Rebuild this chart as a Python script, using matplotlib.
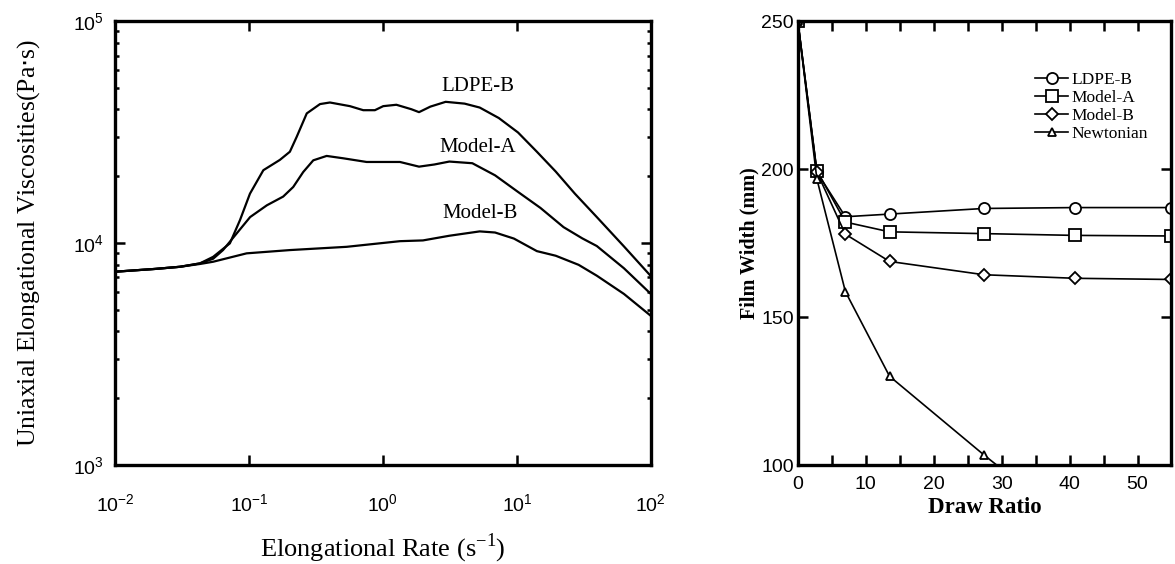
import numpy as np
import matplotlib.pyplot as plt
from matplotlib.ticker import LogLocator, MultipleLocator, NullFormatter

# left panel: elongational viscosity vs rate
rate_ldpe = [0.01, 0.02, 0.0305, 0.043, 0.054, 0.072, 0.0857, 0.1017, 0.128, 0.170, 0.202, 0.227,
             0.270, 0.339, 0.402, 0.567, 0.713, 0.871, 1.005, 1.26, 1.63, 1.86, 2.26, 2.94, 4.07,
             5.28, 7.33, 10.2, 14.1, 19.5, 27.1, 39.5, 63, 100]
visc_ldpe = [7430, 7650, 7820, 8100, 8670, 9970, 12700, 16700, 21300, 23700, 25800, 30100,
             38400, 42300, 43000, 41400, 39700, 39700, 41400, 42000, 40100, 38900, 41200, 43300, 42500,
             40800, 36600, 31500, 25800, 21000, 16700, 13100, 9660, 7100]

rate_model_a = [0.01, 0.02, 0.0305, 0.043, 0.054, 0.064, 0.081, 0.102, 0.136, 0.180, 0.214, 0.254,
                0.302, 0.380, 0.506, 0.755, 1.34, 1.86, 2.42, 3.13, 4.65, 6.87, 10.2, 15.0, 22.3,
                30.8, 39.5, 63, 100]
visc_model_a = [7430, 7650, 7820, 8100, 8500, 9300, 11060, 13100, 14800, 16200, 17900, 20900,
                23600, 24700, 24100, 23200, 23200, 22100, 22600, 23300, 22900, 20200, 17000, 14400, 11800,
                10500, 9700, 7700, 5900]

rate_model_b = [0.01, 0.02, 0.0305, 0.043, 0.054, 0.096, 0.202, 0.536, 1.34, 1.99, 3.13, 5.28,
                6.87, 9.5, 14.1, 19.5, 28.9, 39.5, 63, 100]
visc_model_b = [7430, 7650, 7820, 8050, 8240, 8990, 9300, 9620, 10200, 10280, 10790, 11290,
                11160, 10480, 9200, 8770, 7980, 7130, 5900, 4700]

curve_names = ["LDPE-B", "Model-A", "Model-B"]
label_pos = [(5.1, 51000), (5.1, 27000), (5.3, 13600)]

# right panel: film width vs draw ratio
draw_ratio = [0, 2.8, 7, 13.5, 27.4, 40.8, 55]
width_ldpe = [250, 199, 183.9, 184.8, 186.7, 187.0, 187.0]
width_model_a = [250, 199.5, 182.1, 178.8, 178.2, 177.6, 177.4]
width_model_b = [250, 199, 178.0, 168.8, 164.3, 163.1, 162.7]
draw_ratio_newt = [0, 2.8, 7, 13.5, 27.4, 40.8]
width_newt = [250, 196.7, 158.6, 130.0, 103.4, 79]

serif = "Liberation Serif"
sans = "Liberation Sans"

fig = plt.figure(figsize=(11.75, 5.64), dpi=100)
ax1 = fig.add_axes([0.0979, 0.1755, 0.456, 0.787])
ax2 = fig.add_axes([0.679, 0.1755, 0.318, 0.787])

for ax in (ax1, ax2):
    for s in ax.spines.values():
        s.set_linewidth(2.4)

# ---- left
ax1.plot(rate_ldpe, visc_ldpe, color="black", lw=1.6)
ax1.plot(rate_model_a, visc_model_a, color="black", lw=1.6)
ax1.plot(rate_model_b, visc_model_b, color="black", lw=1.6)
ax1.set_xscale("log")
ax1.set_yscale("log")
ax1.set_xlim(1e-2, 1e2)
ax1.set_ylim(1e3, 1e5)
for name, (x, y) in zip(curve_names, label_pos):
    ax1.text(x, y, name, ha="center", va="center", fontsize=15, family=serif)

ax1.xaxis.set_major_locator(LogLocator(base=10, numticks=10))
ax1.xaxis.set_minor_locator(plt.NullLocator())
ax1.yaxis.set_major_locator(LogLocator(base=10, numticks=10))
ax1.yaxis.set_minor_locator(LogLocator(base=10, subs=np.arange(2, 10), numticks=10))
ax1.yaxis.set_minor_formatter(NullFormatter())
ax1.tick_params(which="both", direction="in", top=True, right=True, width=1.8)
ax1.tick_params(which="major", length=7)
ax1.tick_params(which="minor", length=3)
ax1.tick_params(axis="x", which="major", pad=20)
ax1.tick_params(axis="y", which="major", pad=8)
for lab in ax1.get_xticklabels() + ax1.get_yticklabels():
    lab.set_fontfamily(sans)
    lab.set_fontsize(14)
ax1.set_xlabel("Elongational Rate (s$^{\\mathdefault{-1}}$)", fontsize=19, family=serif, labelpad=12)
ax1.set_ylabel("Uniaxial Elongational Viscosities(Pa$\\cdot$s)", fontsize=18.5, family=serif, labelpad=22)

# ---- right
ax2.plot(draw_ratio, width_ldpe, color="black", lw=1.2, marker="o", ms=8,
         mfc="white", mec="black", mew=1.3, label="LDPE-B")
ax2.plot(draw_ratio, width_model_a, color="black", lw=1.2, marker="s", ms=8,
         mfc="white", mec="black", mew=1.3, label="Model-A")
ax2.plot(draw_ratio, width_model_b, color="black", lw=1.2, marker="D", ms=6,
         mfc="white", mec="black", mew=1.3, label="Model-B")
ax2.plot(draw_ratio_newt, width_newt, color="black", lw=1.2, marker="^", ms=6,
         mfc="white", mec="black", mew=1.3, label="Newtonian")
ax2.set_xlim(0, 55)
ax2.set_ylim(100, 250)
ax2.xaxis.set_major_locator(MultipleLocator(10))
ax2.xaxis.set_minor_locator(MultipleLocator(5))
ax2.yaxis.set_major_locator(MultipleLocator(50))
ax2.tick_params(which="both", direction="in", top=True, right=True, width=1.8, length=7)
ax2.tick_params(axis="x", pad=8)
ax2.tick_params(axis="y", pad=3)
for lab in ax2.get_xticklabels() + ax2.get_yticklabels():
    lab.set_fontfamily(sans)
    lab.set_fontsize(14)
ax2.set_xlabel("Draw Ratio", fontsize=16.5, family=serif, fontweight="bold", labelpad=3)
ax2.set_ylabel("Film Width (mm)", fontsize=14.5, family=serif, fontweight="bold", labelpad=1)
leg = ax2.legend(loc="upper left", bbox_to_anchor=(0.612, 0.905), frameon=False,
                 prop={"family": serif, "size": 12.5}, handlelength=1.9,
                 labelspacing=0.1, handletextpad=0.2, borderpad=0)

fig.savefig("out.png", dpi=100)
